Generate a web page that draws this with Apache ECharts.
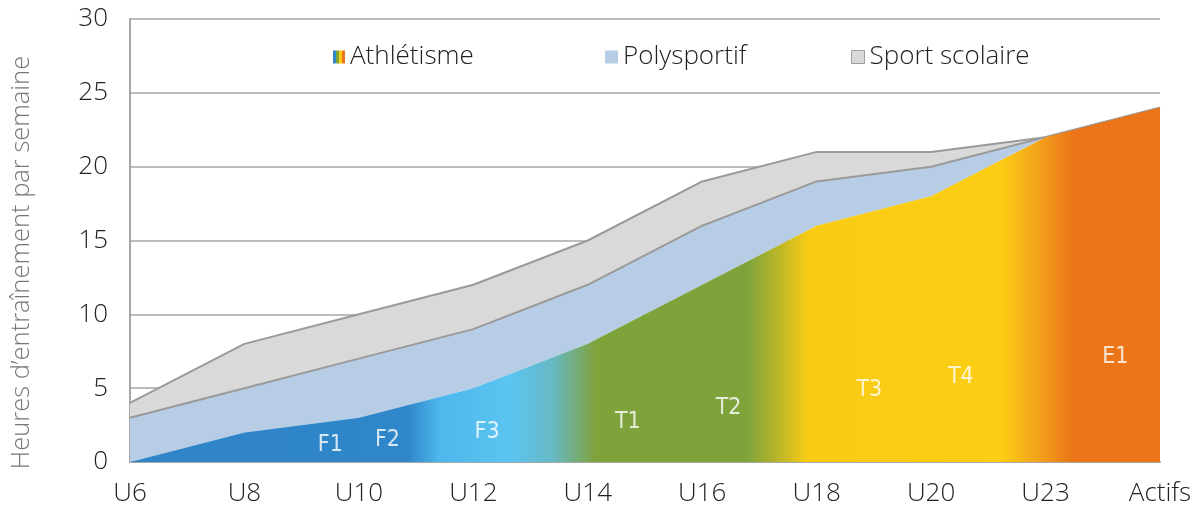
<!DOCTYPE html>
<html>
<head>
<meta charset="utf-8">
<script src="https://cdn.jsdelivr.net/npm/echarts@6/dist/echarts.min.js"></script>
<style>html,body{margin:0;padding:0;background:#fff;}#c{width:1201px;height:510px;}</style>
</head>
<body>
<div id="c"></div>
<script>
var categories = ['U6','U8','U10','U12','U14','U16','U18','U20','U23','Actifs'];
var athletisme = [0, 2, 3, 5, 8, 12, 16, 18, 22, 24];
var polysportif = [3, 3, 4, 4, 4, 4, 3, 2, 0, 0];
var sportScolaire = [1, 3, 3, 3, 3, 3, 2, 1, 0, 0];
var yTicks = [0, 5, 10, 15, 20, 25, 30];
var stageLabels = ['F1','F2','F3','T1','T2','T3','T4','E1'];
var stageX = [1.75, 2.25, 3.12, 4.35, 5.23, 6.46, 7.26, 8.61];
var stageY = [1.15, 1.5, 2.0, 2.7, 3.65, 4.9, 5.75, 7.1];

var chart = echarts.init(document.getElementById('c'));
var G = echarts.graphic.LinearGradient;
var areaGrad = new G(0, 0, 1, 0, [
  {offset: 0, color: '#2e84c6'},
  {offset: 0.27, color: '#2f86c8'},
  {offset: 0.30, color: '#4eb7eb'},
  {offset: 0.37, color: '#5bc4f0'},
  {offset: 0.41, color: '#67b9c6'},
  {offset: 0.452, color: '#7fa33b'},
  {offset: 0.60, color: '#7fa33b'},
  {offset: 0.626, color: '#b3b42c'},
  {offset: 0.658, color: '#f8cb15'},
  {offset: 0.845, color: '#fccd14'},
  {offset: 0.88, color: '#f3a51b'},
  {offset: 0.915, color: '#eb7518'},
  {offset: 1, color: '#eb7518'}
]);
var legendGrad = new G(0, 0, 1, 0, [
  {offset: 0, color: '#2f86c8'}, {offset: 0.25, color: '#2f86c8'},
  {offset: 0.25, color: '#7fa33b'}, {offset: 0.5, color: '#7fa33b'},
  {offset: 0.5, color: '#fccd14'}, {offset: 0.75, color: '#fccd14'},
  {offset: 0.75, color: '#eb7518'}, {offset: 1, color: '#eb7518'}
]);
var font = 'Open Sans';
var FS = 26;
var legendText = {fontSize: FS, color: '#222', fontFamily: font, fontWeight: 300};
var stageData = stageLabels.map(function(l, i){ return [stageX[i], stageY[i], l]; });

chart.setOption({
  animation: false,
  grid: {left: 130, right: 41, top: 19, bottom: 48},
  legend: [
    {left: 328, top: 39, itemWidth: 12, itemHeight: 13, textStyle: legendText,
     data: [{name: 'Athlétisme', icon: 'rect', itemStyle: {color: legendGrad, borderWidth: 0}}]},
    {left: 600, top: 39, itemWidth: 13, itemHeight: 13, textStyle: legendText,
     data: [{name: 'Polysportif', icon: 'rect', itemStyle: {color: '#b7cde6', borderWidth: 0}}]},
    {left: 846, top: 39, itemWidth: 13, itemHeight: 13, textStyle: legendText,
     data: [{name: 'Sport scolaire', icon: 'rect', itemStyle: {color: '#d9d9d9', borderColor: '#a0a0a0', borderWidth: 1}}]}
  ],
  xAxis: [
    {type: 'category', data: categories, boundaryGap: false,
     axisLine: {lineStyle: {color: '#a6a6a6', width: 2}},
     axisTick: {show: false},
     axisLabel: {fontSize: FS, color: '#222', fontFamily: font, fontWeight: 300, margin: 19},
     splitLine: {show: false}},
    {type: 'value', min: 0, max: 9, show: false}
  ],
  yAxis: {
    type: 'value', min: 0, max: 30, interval: 5,
    name: 'Heures d\u2019entraînement par semaine',
    nameLocation: 'middle', nameGap: 95,
    nameTextStyle: {fontSize: 25.5, color: '#777', fontFamily: font, fontWeight: 300,
      padding: [0, 44, 0, 0]},
    axisLine: {show: true, lineStyle: {color: '#a6a6a6', width: 2}},
    axisTick: {show: false},
    axisLabel: {fontSize: FS, color: '#222', fontFamily: font, fontWeight: 300, margin: 22,
      formatter: function(v){ return yTicks.indexOf(v) >= 0 ? String(v) : ''; }},
    splitLine: {lineStyle: {color: '#a6a6a6', width: 1.5}}
  },
  series: [
    {name: 'Athlétisme', type: 'line', stack: 'h', data: athletisme, symbol: 'none',
     lineStyle: {width: 0, opacity: 0}, itemStyle: {color: '#2f86c8'},
     areaStyle: {color: areaGrad, opacity: 1}, z: 3},
    {name: 'Polysportif', type: 'line', stack: 'h', data: polysportif, symbol: 'none',
     lineStyle: {width: 2, color: '#9a9a9a'}, itemStyle: {color: '#b7cde6'},
     areaStyle: {color: '#b7cde6', opacity: 1}, z: 2},
    {name: 'Sport scolaire', type: 'line', stack: 'h', data: sportScolaire, symbol: 'none',
     lineStyle: {width: 2, color: '#9a9a9a'}, itemStyle: {color: '#d9d9d9'},
     areaStyle: {color: '#d9d9d9', opacity: 1}, z: 1},
    {name: 'stages', type: 'scatter', xAxisIndex: 1, data: stageData, symbolSize: 2,
     itemStyle: {color: 'rgba(0,0,0,0)'}, silent: true, z: 10,
     label: {show: true, position: 'inside', color: '#fff', fontSize: 23,
       fontFamily: "'DejaVu Sans Condensed', 'Open Sans', sans-serif",
       formatter: function(p){ return p.data[2]; }}}
  ]
});
</script>
</body>
</html>
